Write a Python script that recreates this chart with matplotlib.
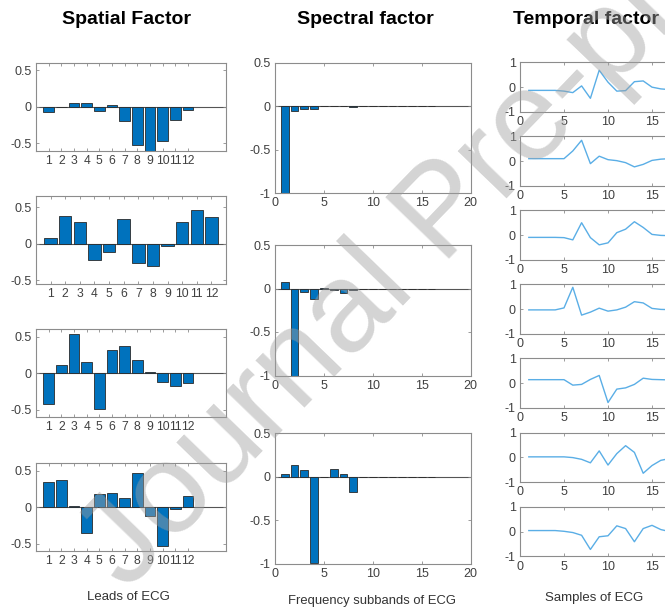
"""Spatial / spectral / temporal factor panels of an ECG tensor decomposition, saved to out.png."""

import matplotlib
matplotlib.use("Agg")
import matplotlib.pyplot as plt
import numpy as np

plt.rcParams["font.family"] = ["Liberation Sans", "DejaVu Sans"]
plt.rcParams["axes.unicode_minus"] = False

# ---- data ----
LEADS = list(range(1, 13))
SPATIAL = [
    [-0.07, -0.01, 0.05, 0.045, -0.06, 0.025, -0.2, -0.52, -0.62, -0.47, -0.18, -0.045],
    [0.075, 0.38, 0.30, -0.22, -0.11, 0.34, -0.27, -0.30, -0.03, 0.30, 0.455, 0.37],
    [-0.42, 0.12, 0.53, 0.15, -0.49, 0.32, 0.37, 0.18, 0.02, -0.12, -0.17, -0.13],
    [0.345, 0.37, 0.02, -0.35, 0.18, 0.20, 0.12, 0.47, -0.12, -0.53, -0.03, 0.155],
]
SPATIAL_XMAX = [15, 13, 15, 15]
SPATIAL_YLIM = [(-0.6, 0.6), (-0.55, 0.65), (-0.6, 0.6), (-0.6, 0.6)]

SUBBANDS = list(range(1, 17))
SPECTRAL = [
    [-1.0, -0.055, -0.03, -0.03, -0.002, -0.002, -0.002, -0.01,
     -0.002, -0.001, -0.001, -0.001, -0.001, -0.001, -0.001, -0.001],
    [0.07, -1.0, -0.04, -0.12, 0.005, -0.02, -0.055, -0.015,
     -0.004, -0.005, -0.005, -0.004, -0.004, -0.005, -0.005, -0.002],
    [0.027, 0.13, 0.078, -0.99, 0.0, 0.085, 0.027, -0.175,
     -0.005, -0.005, 0.0, -0.005, -0.005, -0.005, -0.001, -0.001],
]

SAMPLES = list(range(1, 18))
TEMPORAL = [
    [-0.13, -0.13, -0.13, -0.13, -0.16, -0.22, 0.05, -0.45, 0.68, 0.2, -0.16, -0.14, 0.22, 0.25, 0.0, -0.07, -0.1],
    [0.1, 0.1, 0.1, 0.1, 0.1, 0.41, 0.84, -0.1, 0.2, 0.06, 0.02, -0.06, -0.23, -0.13, 0.03, 0.08, 0.1],
    [-0.09, -0.09, -0.09, -0.09, -0.1, -0.19, 0.5, -0.1, -0.39, -0.31, 0.1, 0.24, 0.54, 0.31, 0.03, -0.01, -0.02],
    [-0.03, -0.03, -0.03, -0.03, 0.05, 0.88, -0.24, -0.12, 0.04, -0.08, -0.03, 0.08, 0.3, 0.25, 0.03, -0.01, -0.02],
    [0.14, 0.14, 0.14, 0.14, 0.14, -0.08, -0.05, 0.15, 0.31, -0.78, -0.24, -0.19, -0.05, 0.2, 0.15, 0.14, 0.13],
    [0.02, 0.02, 0.02, 0.02, 0.02, -0.01, -0.08, -0.22, 0.26, -0.31, 0.15, 0.47, 0.2, -0.64, -0.33, -0.12, -0.05],
    [0.04, 0.04, 0.04, 0.04, 0.01, -0.04, -0.15, -0.72, -0.21, -0.17, 0.23, 0.12, -0.41, 0.12, 0.25, 0.08, 0.0],
]

TITLES = ["Spatial Factor", "Spectral factor", "Temporal factor"]
XLABELS = ["Leads of ECG", "Frequency subbands of ECG", "Samples of ECG"]

W, H = 665, 610
BAR_COLOR = "#0072BD"
LINE_COLOR = "#5AAEE6"
SPINE = "#8c8c8c"
TICKTXT = "#404040"


def _px_axes(fig, left, top, right, bottom):
    """Adds an axes given pixel edges measured from the top-left corner."""
    return fig.add_axes([left / W, 1 - bottom / H, (right - left) / W, (bottom - top) / H])


def _style(ax):
    for s in ax.spines.values():
        s.set_color(SPINE)
        s.set_linewidth(0.8)
    ax.tick_params(direction="in", length=2.5, width=0.6, color=SPINE,
                   labelsize=9, labelcolor=TICKTXT, top=True, right=True, pad=3)


def _bars(ax, x, vals, width):
    ax.axhline(0, color="#555555", lw=0.8, zorder=1)
    ax.bar(x, vals, width=width, color=BAR_COLOR, edgecolor="#2a2a2a", linewidth=0.6, zorder=2)


fig = plt.figure(figsize=(W / 100, H / 100), dpi=100)

# spatial column
for i, top in enumerate([62.7, 196, 329.3, 463.3]):
    ax = _px_axes(fig, 36, top, 226, top + 88)
    _bars(ax, LEADS, SPATIAL[i], 0.85)
    ax.set_xlim(0, SPATIAL_XMAX[i])
    ax.set_ylim(*SPATIAL_YLIM[i])
    ax.set_xticks(LEADS)
    ax.set_yticks([-0.5, 0, 0.5])
    ax.set_yticklabels(["-0.5", "0", "0.5"])
    _style(ax)
    ax.tick_params(axis="x", labelsize=8.7)

# spectral column
for i, top in enumerate([62.7, 245, 433.3]):
    ax = _px_axes(fig, 275, top, 470.7, top + 130.5)
    _bars(ax, SUBBANDS, SPECTRAL[i], 0.8)
    ax.set_xlim(0, 20)
    ax.set_ylim(-1, 0.5)
    ax.set_xticks([0, 5, 10, 15, 20])
    ax.set_yticks([-1, -0.5, 0, 0.5])
    ax.set_yticklabels(["-1", "-0.5", "0", "0.5"])
    _style(ax)

# temporal column (runs past the right edge of the page, as in the source)
for i, top in enumerate([62.3, 136.3, 210.3, 284.3, 358.3, 432.5, 506.7]):
    ax = _px_axes(fig, 520, top, 696, top + 49.7)
    ax.plot(SAMPLES, TEMPORAL[i], color=LINE_COLOR, lw=1.0)
    ax.set_xlim(0, 20)
    ax.set_ylim(-1, 1)
    ax.set_xticks([0, 5, 10, 15, 20])
    ax.set_yticks([-1, 0, 1])
    _style(ax)

fig.text(126 / W, 1 - 20 / H, TITLES[0], ha="center", va="center", fontsize=14, fontweight="bold")
fig.text(365 / W, 1 - 20 / H, TITLES[1], ha="center", va="center", fontsize=14, fontweight="bold")
fig.text(513 / W, 1 - 20 / H, TITLES[2], ha="left", va="center", fontsize=14, fontweight="bold")

fig.text(128 / W, 1 - 597 / H, XLABELS[0], ha="center", va="center", fontsize=9.5, color="#333333")
fig.text(372 / W, 1 - 601 / H, XLABELS[1], ha="center", va="center", fontsize=9.4, color="#333333")
fig.text(594 / W, 1 - 598 / H, XLABELS[2], ha="center", va="center", fontsize=9.5, color="#333333")

# watermark
fig.text(445 / W, 1 - 215 / H, "Journal Pre-proof", rotation=46, rotation_mode="anchor",
         ha="center", va="center", fontsize=92, color="#a0a0a0", alpha=0.45, zorder=100)

fig.savefig("out.png", dpi=100)
